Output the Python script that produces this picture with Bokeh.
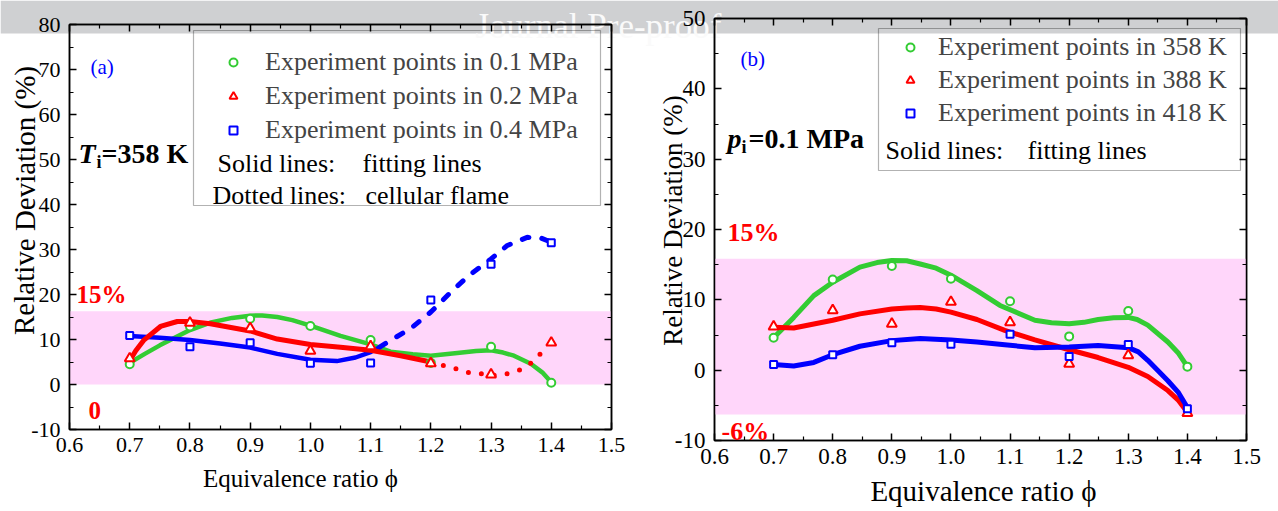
from bokeh.plotting import figure
from bokeh.models import (Range1d, FixedTicker, PrintfTickFormatter, LinearAxis,
                          BoxAnnotation, Label, Legend, LegendItem)
from bokeh.embed import file_html
from bokeh.resources import INLINE

FONT = "Liberation Serif"

# ---------------- data ----------------
phi_exp = [0.7, 0.8, 0.9, 1.0, 1.1, 1.2, 1.3, 1.4]

# panel (a): Ti = 358 K
dev_a_01MPa = [4.5, 12.9, 14.6, 13.0, 9.9, 4.8, 8.4, 0.4]
dev_a_02MPa = [5.8, 13.7, 12.5, 7.5, 8.5, 4.7, 2.2, 9.3]
dev_a_04MPa = [10.9, 8.4, 9.3, 4.7, 4.8, 18.8, 26.7, 31.5]

fit_a_01_phi = [0.70, 0.725, 0.75, 0.80, 0.835, 0.87, 0.90, 0.92, 0.945, 0.97, 1.00, 1.05,
                1.10, 1.133, 1.17, 1.20, 1.244, 1.275, 1.30, 1.32, 1.338, 1.366, 1.385, 1.40]
fit_a_01_dev = [4.8, 6.8, 8.7, 12.1, 13.8, 14.8, 15.3, 15.35, 15.0, 14.3, 13.1, 10.8,
                8.9, 7.3, 6.7, 6.4, 7.0, 7.45, 7.6, 7.1, 6.4, 4.6, 2.7, 0.5]

fit_a_02_phi = [0.70, 0.71, 0.723, 0.751, 0.779, 0.80, 0.834, 0.90, 0.945, 1.00,
                1.05, 1.10, 1.15, 1.20]
fit_a_02_dev = [5.3, 7.5, 9.8, 12.9, 14.0, 14.0, 13.5, 11.9, 10.1, 8.9,
                8.3, 7.6, 6.4, 5.0]
cell_a_02_phi = [1.20, 1.221, 1.242, 1.262, 1.284, 1.302, 1.325, 1.346, 1.367, 1.388]
cell_a_02_dev = [5.0, 4.2, 3.5, 2.7, 2.4, 2.0, 2.3, 3.1, 4.8, 7.6]

fit_a_04_phi = [0.70, 0.75, 0.80, 0.85, 0.90, 0.945, 1.00, 1.044, 1.075, 1.10, 1.115]
fit_a_04_dev = [10.8, 10.4, 9.9, 9.1, 8.2, 6.8, 5.5, 5.2, 6.0, 7.2, 8.3]
cell_a_04_phi = [1.115, 1.133, 1.166, 1.20, 1.233, 1.263, 1.30, 1.327, 1.36, 1.382, 1.40]
cell_a_04_dev = [8.3, 9.8, 12.4, 16.1, 20.5, 24.2, 27.9, 30.9, 32.7, 32.6, 31.6]

# panel (b): pi = 0.1 MPa
dev_b_358K = [4.6, 12.9, 14.8, 13.0, 9.8, 4.8, 8.4, 0.5]
dev_b_388K = [6.2, 8.5, 6.6, 9.7, 6.8, 0.9, 2.1, -6.1]
dev_b_418K = [0.8, 2.2, 3.9, 3.7, 5.1, 1.95, 3.65, -5.5]

fit_b_358_phi = [0.70, 0.734, 0.768, 0.80, 0.846, 0.875, 0.90, 0.925, 0.948, 0.975, 1.00,
                 1.044, 1.083, 1.142, 1.17, 1.20, 1.225, 1.249, 1.275, 1.30, 1.315, 1.333,
                 1.367, 1.385, 1.40]
fit_b_358_dev = [4.6, 7.5, 10.6, 12.5, 14.65, 15.3, 15.6, 15.55, 15.1, 14.5, 13.5,
                 11.3, 9.2, 7.1, 6.75, 6.6, 6.8, 7.2, 7.45, 7.5, 7.2, 6.4,
                 4.0, 2.4, 0.5]
fit_b_388_phi = [0.70, 0.734, 0.80, 0.846, 0.90, 0.925, 0.948, 0.975, 1.00, 1.044, 1.091,
                 1.142, 1.20, 1.249, 1.30, 1.333, 1.367, 1.385, 1.40]
fit_b_388_dev = [6.1, 6.0, 7.1, 8.0, 8.7, 8.85, 8.9, 8.7, 8.25, 7.2, 5.65,
                 4.3, 2.9, 1.8, 0.4, -0.9, -2.9, -4.3, -6.0]
fit_b_418_phi = [0.70, 0.734, 0.768, 0.80, 0.846, 0.90, 0.948, 1.00, 1.044, 1.091,
                 1.142, 1.20, 1.249, 1.30, 1.317, 1.333, 1.367, 1.385, 1.40]
fit_b_418_dev = [0.8, 0.6, 1.1, 2.2, 3.4, 4.2, 4.5, 4.3, 4.0, 3.6,
                 3.2, 3.3, 3.5, 3.2, 2.6, 1.4, -1.5, -3.2, -5.3]

band_a = [0.0, 16.3]
band_b = [-6.3, 15.85]

x_ticks = [0.6, 0.7, 0.8, 0.9, 1.0, 1.1, 1.2, 1.3, 1.4, 1.5]
x_minor = [0.65, 0.75, 0.85, 0.95, 1.05, 1.15, 1.25, 1.35, 1.45]
ya_ticks = [-10, 0, 10, 20, 30, 40, 50, 60, 70, 80]
ya_minor = [-5, 5, 15, 25, 35, 45, 55, 65, 75]
yb_ticks = [-10, 0, 10, 20, 30, 40, 50]
yb_minor = [-5, 5, 15, 25, 35, 45]

GREEN = "#33CC33"
RED = "#FF0000"
BLUE = "#0000FF"
BANDC = "#FFD6FA"
WMARK = "#CFD0D2"

W, H = 1278, 511


# ------------- helpers -------------
def style_axes(p, yt, ym, fsize):
    xb = p.below[0]
    yl = p.left[0]
    xb.ticker = FixedTicker(ticks=x_ticks, minor_ticks=x_minor)
    yl.ticker = FixedTicker(ticks=yt, minor_ticks=ym)
    xb.formatter = PrintfTickFormatter(format="%.1f")
    yl.formatter = PrintfTickFormatter(format="%d")
    top = LinearAxis(ticker=FixedTicker(ticks=x_ticks, minor_ticks=x_minor),
                     major_label_text_font_size="1px", major_label_standoff=0,
                     major_label_text_color=None)
    right = LinearAxis(ticker=FixedTicker(ticks=yt, minor_ticks=ym),
                       major_label_text_font_size="1px", major_label_standoff=0,
                       major_label_text_color=None)
    p.add_layout(top, "above")
    p.add_layout(right, "right")
    for a in [xb, yl, top, right]:
        a.major_tick_in = 7
        a.major_tick_out = 0
        a.minor_tick_in = 4
        a.minor_tick_out = 0
        a.axis_line_width = 1.5
        a.major_tick_line_width = 1.5
        a.minor_tick_line_width = 1.2
        a.axis_line_color = "black"
        a.major_tick_line_color = "black"
        a.minor_tick_line_color = "black"
    for a in [xb, yl]:
        a.major_label_text_font = FONT
        a.major_label_text_font_size = fsize
        a.major_label_text_color = "black"
    xb.major_label_standoff = 8
    yl.major_label_standoff = 9
    p.xgrid.visible = False
    p.ygrid.visible = False
    p.outline_line_color = "black"
    p.outline_line_width = 1.5
    p.border_fill_alpha = 0
    p.background_fill_alpha = 0


def txt(p, x, y, s, size, color="black", style="normal", align="left",
        baseline="middle", angle=0.0, level="annotation"):
    p.add_layout(Label(x=x, y=y, text=s, text_font=FONT, text_font_size=size,
                       text_color=color, text_font_style=style, text_align=align,
                       text_baseline=baseline, angle=angle, level=level))


# ------------- background layer (page-wide watermark and axis titles) -------------
bg = figure(width=W, height=H, x_range=Range1d(0, W), y_range=Range1d(H, 0),
            output_backend="svg", toolbar_location=None, title=None,
            x_axis_location=None, y_axis_location=None,
            min_border=0, min_border_left=0, min_border_right=0,
            min_border_top=0, min_border_bottom=0,
            styles={"position": "absolute", "left": "0px", "top": "0px"})
bg.outline_line_color = None
bg.xgrid.visible = False
bg.ygrid.visible = False
bg.add_layout(BoxAnnotation(left=0, right=W, top=0, bottom=33, fill_color=WMARK,
                            fill_alpha=1, line_color=None))
txt(bg, 475, 26, "Journal Pre-proof", "35px", color="#FAFAFA", baseline="alphabetic")
txt(bg, 300, 478, "Equivalence ratio \u03d5", "25px", align="center")
txt(bg, 24, 200, "Relative Deviation (%)", "29px", align="center", angle=1.5707963)
txt(bg, 983, 490, "Equivalence ratio \u03d5", "29px", align="center")
txt(bg, 672, 220, "Relative Deviation (%)", "27px", align="center", angle=1.5707963)

# ------------- panel (a) -------------
AX0, AX1, AY0, AY1 = 69, 611, 24, 429
WA = 660
def ax(px):
    return 0.6 + (px - AX0) * 0.9 / (AX1 - AX0)
def ay(py):
    return 80 - (py - AY0) * 90.0 / (AY1 - AY0)

pa = figure(width=WA, height=H, x_range=Range1d(0.6, 1.5), y_range=Range1d(-10, 80),
            output_backend="svg", toolbar_location=None, title=None,
            min_border_left=AX0, min_border_right=WA - AX1,
            min_border_top=AY0, min_border_bottom=H - AY1,
            styles={"position": "absolute", "left": "0px", "top": "0px"})
style_axes(pa, ya_ticks, ya_minor, "22px")

pa.add_layout(BoxAnnotation(bottom=band_a[0], top=band_a[1], fill_color=BANDC,
                            fill_alpha=1, line_color=None, level="underlay"))

pa.line(fit_a_01_phi, fit_a_01_dev, line_color=GREEN, line_width=4.5, line_join="round")
pa.line(fit_a_04_phi, fit_a_04_dev, line_color=BLUE, line_width=4.5, line_join="round")
pa.line(cell_a_04_phi, cell_a_04_dev, line_color=BLUE, line_width=5, line_dash="7 13",
        line_cap="round")
pa.line(fit_a_02_phi, fit_a_02_dev, line_color=RED, line_width=5, line_join="round")
pa.line(cell_a_02_phi, cell_a_02_dev, line_color=RED, line_width=5, line_dash="0 13",
        line_cap="round")
ra1 = pa.scatter(phi_exp, dev_a_01MPa, marker="circle", size=8, line_color=GREEN,
                 line_width=2, fill_color="white")
ra2 = pa.scatter(phi_exp, dev_a_02MPa, marker="triangle", size=10, line_color=RED,
                 line_width=2, fill_color="white")
ra3 = pa.scatter(phi_exp, dev_a_04MPa, marker="square", size=7, line_color=BLUE,
                 line_width=2, fill_color="white")

pa.add_layout(BoxAnnotation(left=ax(193), right=ax(600), top=ay(30), bottom=ay(205),
                            fill_alpha=0, line_color="black", line_width=1.2))
leg_a = Legend(items=[LegendItem(label="Experiment points in 0.1 MPa", renderers=[ra1]),
                      LegendItem(label="Experiment points in 0.2 MPa", renderers=[ra2]),
                      LegendItem(label="Experiment points in 0.4 MPa", renderers=[ra3])],
               location=(223 - AX0, AY1 - 145), orientation="vertical", padding=0, margin=0,
               spacing=4, glyph_width=20, glyph_height=30, label_height=30,
               label_standoff=22, border_line_color=None, background_fill_alpha=0,
               label_text_font=FONT, label_text_font_size="26px")
pa.add_layout(leg_a)
txt(pa, ax(217), ay(163), "Solid lines:", "26px")
txt(pa, ax(362), ay(163), "fitting lines", "26px")
txt(pa, ax(212), ay(195), "Dotted lines:", "26px")
txt(pa, ax(365), ay(195), "cellular flame", "26px")

txt(pa, ax(90), ay(66), "(a)", "21px", color=BLUE)
txt(pa, ax(78), ay(153), "T", "28px", style="bold italic", baseline="alphabetic")
txt(pa, ax(96), ay(161), "i", "18px", style="bold", baseline="alphabetic")
txt(pa, ax(101), ay(153), "=358 K", "28px", style="bold", baseline="alphabetic")
txt(pa, ax(76), ay(294), "15%", "25px", color=RED, style="bold")
txt(pa, ax(88), ay(410), "0", "25px", color=RED, style="bold")

# ------------- panel (b) -------------
BX0, BX1, BY0, BY1 = 714, 1246, 18, 440
WB = W - WA
def bx(px):
    return 0.6 + (px - BX0) * 0.9 / (BX1 - BX0)
def by(py):
    return 50 - (py - BY0) * 60.0 / (BY1 - BY0)

pb = figure(width=WB, height=H, x_range=Range1d(0.6, 1.5), y_range=Range1d(-10, 50),
            output_backend="svg", toolbar_location=None, title=None,
            min_border_left=BX0 - WA, min_border_right=W - BX1,
            min_border_top=BY0, min_border_bottom=H - BY1,
            styles={"position": "absolute", "left": "%dpx" % WA, "top": "0px"})
style_axes(pb, yb_ticks, yb_minor, "23px")

pb.add_layout(BoxAnnotation(bottom=band_b[0], top=band_b[1], fill_color=BANDC,
                            fill_alpha=1, line_color=None, level="underlay"))

pb.line(fit_b_358_phi, fit_b_358_dev, line_color=GREEN, line_width=5, line_join="round")
pb.line(fit_b_388_phi, fit_b_388_dev, line_color=RED, line_width=5, line_join="round")
pb.line(fit_b_418_phi, fit_b_418_dev, line_color=BLUE, line_width=5, line_join="round")
rb1 = pb.scatter(phi_exp, dev_b_358K, marker="circle", size=8, line_color=GREEN,
                 line_width=2, fill_color="white")
rb2 = pb.scatter(phi_exp, dev_b_388K, marker="triangle", size=10, line_color=RED,
                 line_width=2, fill_color="white")
rb3 = pb.scatter(phi_exp, dev_b_418K, marker="square", size=7, line_color=BLUE,
                 line_width=2, fill_color="white")

pb.add_layout(BoxAnnotation(left=bx(878), right=bx(1240), top=by(28), bottom=by(170),
                            fill_alpha=0, line_color="black", line_width=1.2))
leg_b = Legend(items=[LegendItem(label="Experiment points in 358 K", renderers=[rb1]),
                      LegendItem(label="Experiment points in 388 K", renderers=[rb2]),
                      LegendItem(label="Experiment points in 418 K", renderers=[rb3])],
               location=(900 - BX0, BY1 - 128), orientation="vertical", padding=0, margin=0,
               spacing=3, glyph_width=20, glyph_height=30, label_height=30,
               label_standoff=18, border_line_color=None, background_fill_alpha=0,
               label_text_font=FONT, label_text_font_size="26px")
pb.add_layout(leg_b)
txt(pb, bx(885), by(150), "Solid lines:", "26px")
txt(pb, bx(1027), by(150), "fitting lines", "26px")

txt(pb, bx(740), by(58), "(b)", "21px", color=BLUE)
txt(pb, bx(727), by(138), "p", "28px", style="bold italic", baseline="alphabetic")
txt(pb, bx(741), by(146), "i", "18px", style="bold", baseline="alphabetic")
txt(pb, bx(748), by(138), "=0.1 MPa", "28px", style="bold", baseline="alphabetic")
txt(pb, bx(727), by(232), "15%", "26px", color=RED, style="bold")
txt(pb, bx(721), by(431), "-6%", "26px", color=RED, style="bold")

open("out.html", "w").write(file_html([bg, pa, pb], INLINE))
